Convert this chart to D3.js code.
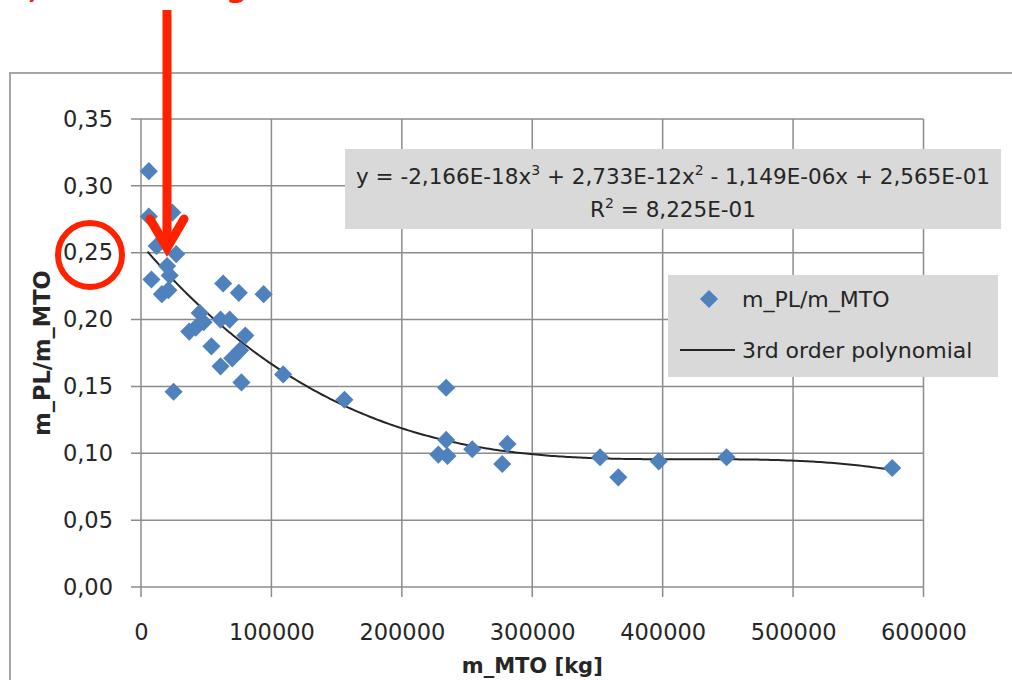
<!DOCTYPE html>
<html>
<head>
<meta charset="utf-8">
<script src="https://cdn.jsdelivr.net/npm/d3@7"></script>
<style>
  html, body { margin: 0; padding: 0; background: #fff; }
  svg { display: block; font-family: "DejaVu Sans", sans-serif; }
</style>
</head>
<body>
<svg id="chart" width="1012" height="680"></svg>
<script>
// ---- data ----
const massMTO = [6000, 6000, 24000, 12000, 27000, 20000, 22000, 8000, 16000, 21000,
  63000, 75000, 94000, 45000, 37000, 42000, 48000, 61000, 68000, 54000,
  80000, 61000, 70000, 76000, 77000, 25000, 109000, 156000, 234000, 234000,
  228000, 235000, 254000, 281000, 277000, 352000, 366000, 397000, 449000, 576000];
const ratioPL = [0.311, 0.277, 0.280, 0.255, 0.249, 0.240, 0.233, 0.230, 0.219, 0.222,
  0.227, 0.220, 0.219, 0.205, 0.191, 0.194, 0.198, 0.200, 0.200, 0.180,
  0.188, 0.165, 0.171, 0.177, 0.153, 0.146, 0.159, 0.140, 0.149, 0.110,
  0.099, 0.098, 0.103, 0.107, 0.092, 0.097, 0.082, 0.094, 0.097, 0.089];
// trendline coefficients as printed on the chart (a3, a2, a1, a0)
const trendCoefficients = [-2.166e-18, 2.733e-12, -1.149e-06, 2.565e-01];
const xTicks = [0, 100000, 200000, 300000, 400000, 500000, 600000];
const yTicks = [0, 0.05, 0.10, 0.15, 0.20, 0.25, 0.30, 0.35];
const seriesName = "m_PL/m_MTO";
const trendName = "3rd order polynomial";
const xTitle = "m_MTO [kg]";
const yTitle = "m_PL/m_MTO";

const svg = d3.select("#chart");
const pLeft = 141, pRight = 923.5, pTop = 119, pBottom = 587;
const x = d3.scaleLinear().domain([0, 600000]).range([pLeft, pRight]);
const y = d3.scaleLinear().domain([0, 0.35]).range([pBottom, pTop]);
const gridColor = "#8c8c8c";
const textColor = "#262626";
const fmtY = v => d3.format(".2f")(v).replace(".", ",");

// outer chart border
svg.append("rect").attr("x", 10).attr("y", 73).attr("width", 1100).attr("height", 700)
  .attr("fill", "none").attr("stroke", "#a6a6a6").attr("stroke-width", 2);

// gridlines
svg.append("g").selectAll("line").data(yTicks).join("line")
  .attr("x1", pLeft - 10).attr("x2", pRight).attr("y1", d => y(d)).attr("y2", d => y(d))
  .attr("stroke", gridColor).attr("stroke-width", 1.5);
svg.append("g").selectAll("line").data(xTicks).join("line")
  .attr("x1", d => x(d)).attr("x2", d => x(d)).attr("y1", pTop).attr("y2", pBottom + 10)
  .attr("stroke", gridColor).attr("stroke-width", 1.5);

// axes (labels through d3 axes)
const yAxis = d3.axisLeft(y).tickValues(yTicks).tickFormat(fmtY).tickSize(0).tickPadding(28);
const gy = svg.append("g").attr("transform", `translate(${pLeft},0)`).call(yAxis);
gy.select(".domain").remove();
gy.selectAll("text").attr("font-size", 22.5).attr("fill", textColor)
  .attr("font-family", "DejaVu Sans, sans-serif");

const xAxis = d3.axisBottom(x).tickValues(xTicks).tickFormat(d3.format("d")).tickSize(0).tickPadding(37);
const gx = svg.append("g").attr("transform", `translate(0,${pBottom})`).call(xAxis);
gx.select(".domain").remove();
gx.selectAll("text").attr("font-size", 22.5).attr("fill", textColor)
  .attr("font-family", "DejaVu Sans, sans-serif");

// axis titles
svg.append("text").attr("x", x(300000)).attr("y", 673).attr("text-anchor", "middle")
  .attr("font-size", 21).attr("font-weight", "bold").attr("fill", textColor).text(xTitle);
svg.append("text").attr("transform", `translate(50,${(pTop + pBottom) / 2}) rotate(-90)`)
  .attr("text-anchor", "middle").attr("font-size", 22.5).attr("font-weight", "bold")
  .attr("fill", textColor).text(yTitle);

// trend line
const poly = v => ((trendCoefficients[0] * v + trendCoefficients[1]) * v + trendCoefficients[2]) * v + trendCoefficients[3];
const xMin = d3.min(massMTO) - 1000, xMax = d3.max(massMTO);
const trendXs = d3.range(xMin, xMax, 2000).concat([xMax]);
svg.append("path").datum(trendXs)
  .attr("d", d3.line().x(d => x(d)).y(d => y(poly(d))))
  .attr("fill", "none").attr("stroke", "#262626").attr("stroke-width", 2);

// points
const diamond = d3.symbol().type(d3.symbolDiamond2).size(210);
const pts = massMTO.map((m, i) => [m, ratioPL[i]]);
svg.append("g").selectAll("path").data(pts).join("path")
  .attr("d", diamond)
  .attr("transform", d => `translate(${x(d[0])},${y(d[1])})`)
  .attr("fill", "#4F81BD");

// equation box
svg.append("rect").attr("x", 345).attr("y", 149).attr("width", 656).attr("height", 80)
  .attr("fill", "#d9d9d9");
const eq = svg.append("text").attr("x", 673).attr("y", 184).attr("text-anchor", "middle")
  .attr("font-size", 21.5).attr("fill", textColor);
eq.append("tspan").text("y = -2,166E-18x");
eq.append("tspan").attr("dy", -9).attr("font-size", 14).text("3");
eq.append("tspan").attr("dy", 9).text(" + 2,733E-12x");
eq.append("tspan").attr("dy", -9).attr("font-size", 14).text("2");
eq.append("tspan").attr("dy", 9).text(" - 1,149E-06x + 2,565E-01");
const r2 = svg.append("text").attr("x", 673).attr("y", 217).attr("text-anchor", "middle")
  .attr("font-size", 21.5).attr("fill", textColor);
r2.append("tspan").text("R");
r2.append("tspan").attr("dy", -9).attr("font-size", 14).text("2");
r2.append("tspan").attr("dy", 9).text(" = 8,225E-01");

// legend
svg.append("rect").attr("x", 668).attr("y", 275).attr("width", 330).attr("height", 102)
  .attr("fill", "#d9d9d9");
svg.append("path").attr("d", diamond).attr("transform", "translate(709,299)").attr("fill", "#4F81BD");
svg.append("text").attr("x", 742).attr("y", 307).attr("font-size", 22).attr("fill", textColor).text(seriesName);
svg.append("line").attr("x1", 680).attr("x2", 735).attr("y1", 350).attr("y2", 350)
  .attr("stroke", "#262626").attr("stroke-width", 2);
svg.append("text").attr("x", 742).attr("y", 358).attr("font-size", 22).attr("fill", textColor).text(trendName);

// red annotations
const red = "#ff2200";
svg.append("line").attr("x1", 167).attr("x2", 167).attr("y1", 10).attr("y2", 245)
  .attr("stroke", red).attr("stroke-width", 9);
svg.append("path").attr("d", "M150,219 L167,248 L184,219")
  .attr("fill", "none").attr("stroke", red).attr("stroke-width", 9)
  .attr("stroke-linejoin", "miter").attr("stroke-linecap", "round");
svg.append("circle").attr("cx", 90).attr("cy", 255).attr("r", 32)
  .attr("fill", "none").attr("stroke", red).attr("stroke-width", 6);
svg.append("text").attr("x", 28).attr("y", -2).attr("font-size", 30).attr("font-weight", "bold")
  .attr("fill", red).text(",");
svg.append("text").attr("x", 226).attr("y", -3).attr("font-size", 30).attr("font-weight", "bold")
  .attr("fill", red).text("g");
</script>
</body>
</html>
